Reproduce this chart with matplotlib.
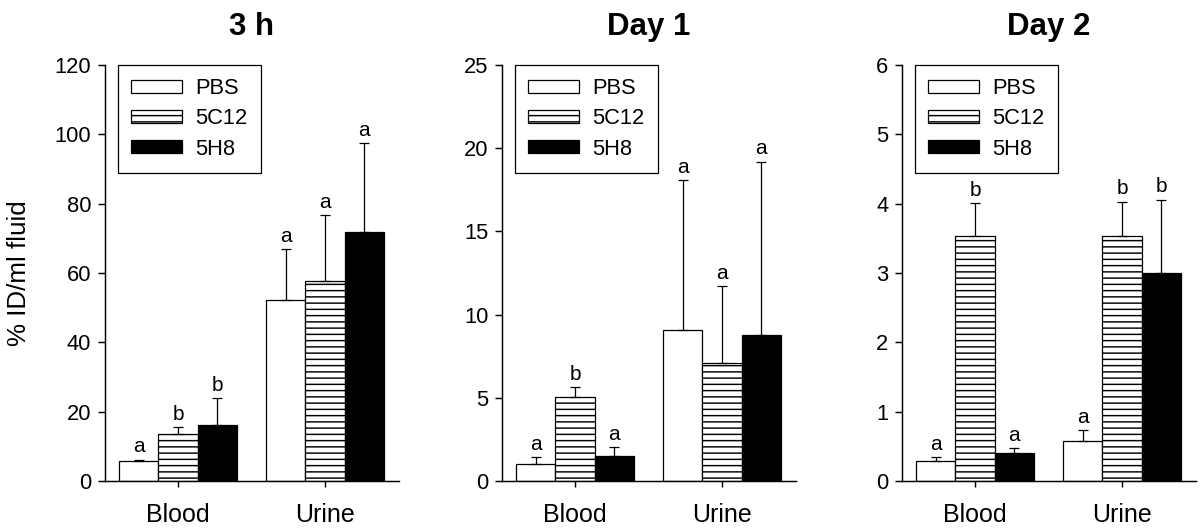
import matplotlib
matplotlib.use("Agg")
import matplotlib.pyplot as plt
import numpy as np

plt.rcParams['font.family'] = ['Liberation Sans', 'DejaVu Sans']
plt.rcParams['hatch.linewidth'] = 0.7

categories = ["Blood", "Urine"]
groups = ["PBS", "5C12", "5H8"]
titles = ["3 h", "Day 1", "Day 2"]

# means per panel: rows = group (PBS, 5C12, 5H8), cols = category (Blood, Urine)
means_3h = [[5.8, 52.3], [13.5, 57.6], [16.1, 71.8]]
err_3h = [[0.4, 14.6], [2.0, 19.2], [7.8, 25.8]]
letters_3h = [["a", "a"], ["b", "a"], ["b", "a"]]

means_d1 = [[1.0, 9.1], [5.02, 7.1], [1.5, 8.8]]
err_d1 = [[0.46, 9.0], [0.64, 4.6], [0.56, 10.4]]
letters_d1 = [["a", "a"], ["b", "a"], ["a", "a"]]

means_d2 = [[0.29, 0.58], [3.53, 3.53], [0.41, 3.0]]
err_d2 = [[0.06, 0.16], [0.48, 0.50], [0.07, 1.06]]
letters_d2 = [["a", "a"], ["b", "b"], ["a", "b"]]

ylims = [120, 25, 6]
ysteps = [20, 5, 1]

panels = [
    (means_3h, err_3h, letters_3h),
    (means_d1, err_d1, letters_d1),
    (means_d2, err_d2, letters_d2),
]

styles = [
    dict(facecolor="white", hatch=None),
    dict(facecolor="white", hatch="----"),
    dict(facecolor="black", hatch=None),
]

fig = plt.figure(figsize=(8, 3.54), dpi=150)
lefts = [105 / 1200, 502 / 1200, 902 / 1200]
W = 294 / 1200
B = 1 - 481 / 531
H = 416 / 531

bw = 0.267
x = np.arange(len(categories))

for pi, (means, errs, letters) in enumerate(panels):
    ax = fig.add_axes([lefts[pi], B, W, H])
    handles = []
    for gi in range(3):
        xs = x + (gi - 1) * bw
        st = styles[gi]
        bars = ax.bar(xs, means[gi], width=bw, facecolor=st["facecolor"],
                      edgecolor="black", linewidth=0.6, hatch=st["hatch"],
                      label=groups[gi], zorder=2)
        handles.append(bars)
        ax.errorbar(xs, means[gi], yerr=[np.zeros(len(x)), errs[gi]],
                    fmt="none", ecolor="black", elinewidth=0.6,
                    capsize=2.6, capthick=0.6, zorder=3)
        for xi in range(len(x)):
            ax.annotate(letters[gi][xi], (xs[xi], means[gi][xi] + errs[gi][xi]),
                        xytext=(0, 1.5), textcoords="offset points",
                        ha="center", va="bottom", fontsize=10)
    ax.set_xlim(-0.496, 1.503)
    ax.set_ylim(0, ylims[pi])
    ax.set_yticks(np.arange(0, ylims[pi] + 0.001, ysteps[pi]))
    ax.set_xticks(x)
    ax.set_xticklabels(categories)
    ax.spines["top"].set_visible(False)
    ax.spines["right"].set_visible(False)
    for s in ["left", "bottom"]:
        ax.spines[s].set_linewidth(0.7)
    ax.tick_params(axis="y", direction="out", length=3.6, width=0.7,
                   labelsize=10.5, pad=3)
    ax.tick_params(axis="x", direction="out", length=3, width=0.7,
                   labelsize=12, pad=7.5)
    ax.set_title(titles[pi], fontsize=15, fontweight="bold", pad=14.5)
    if pi == 0:
        ax.set_ylabel("% ID/ml fluid", fontsize=12.5)
        ax.yaxis.set_label_coords(-0.25, 0.5)
    leg = ax.legend(handles=handles, loc="upper left",
                    bbox_to_anchor=(12.5 / 294, 1.0), borderaxespad=0,
                    fontsize=10.5, frameon=True, fancybox=False,
                    framealpha=1, edgecolor="black",
                    handlelength=2.37, handleheight=0.55, handletextpad=0.6,
                    labelspacing=0.42, borderpad=0.6)
    leg.get_frame().set_linewidth(0.6)

fig.savefig("out.png", dpi=150)
